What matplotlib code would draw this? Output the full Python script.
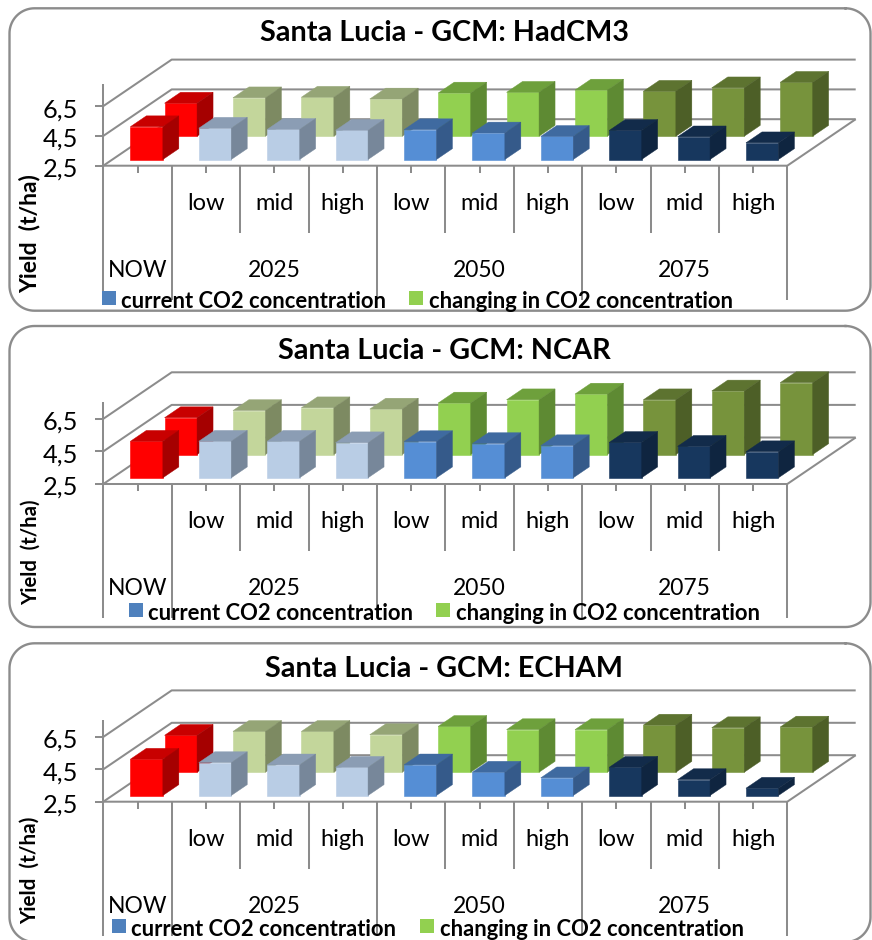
#!/usr/bin/env python3

import numpy as np
import matplotlib.pyplot as plt
from matplotlib.patches import Rectangle

plt.rcParams['font.family'] = ['Lato', 'DejaVu Sans']

W, H = 872, 940

# data
titles = ['Santa Lucia - GCM: HadCM3', 'Santa Lucia - GCM: NCAR', 'Santa Lucia - GCM: ECHAM']
scenarios = ['low', 'mid', 'high'] * 3
periods = ['NOW', '2025', '2050', '2075']
yticks = [2.5, 4.5, 6.5]
ytick_labels = ['2,5', '4,5', '6,5']
ylabel = 'Yield  (t/ha)'
legend_current = 'current CO2 concentration'
legend_changing = 'changing in CO2 concentration'

current_hadcm3 = [4.70, 4.60, 4.52, 4.46, 4.50, 4.28, 4.05, 4.45, 4.02, 3.62]
changing_hadcm3 = [4.72, 5.08, 5.12, 5.00, 5.40, 5.45, 5.60, 5.52, 5.75, 6.12]
current_ncar = [4.74, 4.74, 4.74, 4.65, 4.72, 4.60, 4.47, 4.67, 4.43, 4.10]
changing_ncar = [4.76, 5.20, 5.37, 5.29, 5.66, 5.86, 6.21, 5.86, 6.40, 6.91]
current_echam = [4.74, 4.53, 4.39, 4.24, 4.39, 3.94, 3.59, 4.24, 3.48, 2.95]
changing_echam = [4.78, 5.02, 5.02, 4.82, 5.33, 5.13, 5.13, 5.41, 5.25, 5.29]

current = [current_hadcm3, current_ncar, current_echam]
changing = [changing_hadcm3, changing_ncar, changing_echam]

# layout of the three panels, in pixels
floor_px = [165.7, 484.0, 801.7]
unit_px = [14.9, 16.3, 16.2]
frame_px = [(8.3, 310.7), (326.0, 627.0), (643.3, 942.0)]
title_px = [33, 351, 669]
ylabel_px = [(30, 234, 16.5), (31, 552, 14.6), (30, 870, 14.9)]
legend_px = [(102, 409, 304.5), (129, 436, 616.5), (112, 420, 932.5)]

plot_left, cat_px, depth_px = 103.3, 68.4, 46.5
grid = '#8c8c8c'

# (front, top, side) of each cube
red = ('#ff0000', '#c80000', '#a50000')
pale_blue = ('#b9cde5', '#8b9db4', '#77879a')
blue = ('#558ed5', '#3f6aa0', '#355a8a')
navy = ('#17375e', '#122b4a', '#0f2540')
pale_green = ('#c3d69b', '#95a576', '#7d8a62')
green = ('#92d050', '#6ea03c', '#5e8a33')
olive = ('#77933c', '#5d7330', '#4d5f27')
front_colors = [red] + [pale_blue] * 3 + [blue] * 3 + [navy] * 3
back_colors = [red] + [pale_green] * 3 + [green] * 3 + [olive] * 3


def draw_row(ax, values, colors, depth, depth_units, zorder):
    bar_w, bar_d = 0.475, 0.234
    for k, v in enumerate(values):
        x0 = k + 0.5 - bar_w / 2 + depth
        base = 2.5 + depth * depth_units
        face, top, side = colors[k]
        dy = bar_d * depth_units
        ax.bar(x0, v - 2.5, bar_w, bottom=base, align='edge', color=face,
               edgecolor=face, linewidth=0.4, zorder=zorder, clip_on=False)
        ax.fill([x0, x0 + bar_w, x0 + bar_w + bar_d, x0 + bar_d],
                [v + depth * depth_units] * 2 + [v + depth * depth_units + dy] * 2,
                color=top, lw=0.3, zorder=zorder, clip_on=False)
        ax.fill([x0 + bar_w, x0 + bar_w + bar_d, x0 + bar_w + bar_d, x0 + bar_w],
                [base, base + dy, v + depth * depth_units + dy, v + depth * depth_units],
                color=side, lw=0.3, zorder=zorder, clip_on=False)


def rounded_outline(x0, y0, x1, y1, r):
    # polyline, a patch with curves goes wrong where it runs off the canvas
    t = np.linspace(0, np.pi / 2, 20)
    xs = np.concatenate([x1 - r + r * np.sin(t), x1 - r + r * np.cos(t),
                         x0 + r - r * np.sin(t), x0 + r - r * np.cos(t)])
    ys = np.concatenate([y0 + r - r * np.cos(t), y1 - r + r * np.sin(t),
                         y1 - r + r * np.cos(t), y0 + r - r * np.sin(t)])
    return np.append(xs, xs[0]), np.append(ys, ys[0])


fig = plt.figure(figsize=(W / 100, H / 100), dpi=100)

for p in range(3):
    unit = unit_px[p]
    depth_units = depth_px / unit
    ax = fig.add_axes([plot_left / W, 1 - floor_px[p] / H, 10 * cat_px / W, 4 * unit / H])
    ax.set_xlim(0, 10)
    ax.set_ylim(2.5, 6.5)
    ax.axis('off')

    line = dict(color=grid, lw=1.45, clip_on=False, solid_capstyle='butt', zorder=1)

    # walls and floor
    for y in yticks:
        ax.plot([0, 1, 11], [y, y + depth_units, y + depth_units], **line)
        ax.plot([-0.12, 0], [y, y], **line)
        ax.text(-0.37, y - 3.5 / unit, ytick_labels[yticks.index(y)], ha='right', va='center',
                fontsize=18.3, clip_on=False)
    ax.plot([0, 10, 11], [2.5, 2.5, 2.5 + depth_units], **line)
    ax.plot([0, 0], [2.5, 2.5 + 82 / unit], **line)

    # category axis below the floor
    for k in range(11):
        long_sep = k in (0, 1, 4, 7, 10)
        ax.plot([k, k], [2.5, 2.5 - (134 if long_sep else 67) / unit], **line)
    for k in range(10):
        ax.plot([k + 0.5, k + 0.5], [2.5, 2.5 - 7 / unit], **line)
    for k, name in enumerate(scenarios):
        ax.text(k + 1.5, 2.5 - 38 / unit, name, ha='center', va='center', fontsize=17, clip_on=False)
    for centre, name in zip([0.5, 2.5, 5.5, 8.5], periods):
        ax.text(centre, 2.5 - 104.5 / unit, name, ha='center', va='center', fontsize=16.5, clip_on=False)

    draw_row(ax, changing[p], back_colors, 0.633, depth_units, 3)
    draw_row(ax, current[p], front_colors, 0.133, depth_units, 4)

# frames, titles and legends sit on one pixel axes on top
top = fig.add_axes([0, 0, 1, 1], zorder=5)
top.set_xlim(0, W)
top.set_ylim(H, 0)
top.axis('off')
top.patch.set_visible(False)

for p in range(3):
    y0, y1 = frame_px[p]
    xs, ys = rounded_outline(9.5, y0, 870.5, y1, 25)
    top.plot(xs, ys, color=grid, lw=1.7)
    top.text(444, title_px[p], titles[p], ha='center', va='center', fontsize=20.7, fontweight='bold')
    x, y, size = ylabel_px[p]
    top.text(x, y, ylabel, rotation=90, ha='center', va='center', fontsize=size, fontweight='bold')

    x_a, x_b, clip_y = legend_px[p]
    clip = Rectangle((0, clip_y - 30), W, 30, transform=top.transData)
    top.add_patch(Rectangle((x_a, clip_y - 13.5), 14, 13.5, fc='#4f81bd', ec='none'))
    top.add_patch(Rectangle((x_b, clip_y - 13.5), 14, 13.5, fc='#92d050', ec='none'))
    for x, s in ((x_a + 19, legend_current), (x_b + 20, legend_changing)):
        t = top.text(x, clip_y + 3, s, ha='left', va='baseline', fontsize=15.8, fontweight='bold')
        t.set_clip_path(clip)

top.set_xlim(0, W)
top.set_ylim(H, 0)

fig.savefig('out.png', dpi=100)
print('Figure saved in out.png')
